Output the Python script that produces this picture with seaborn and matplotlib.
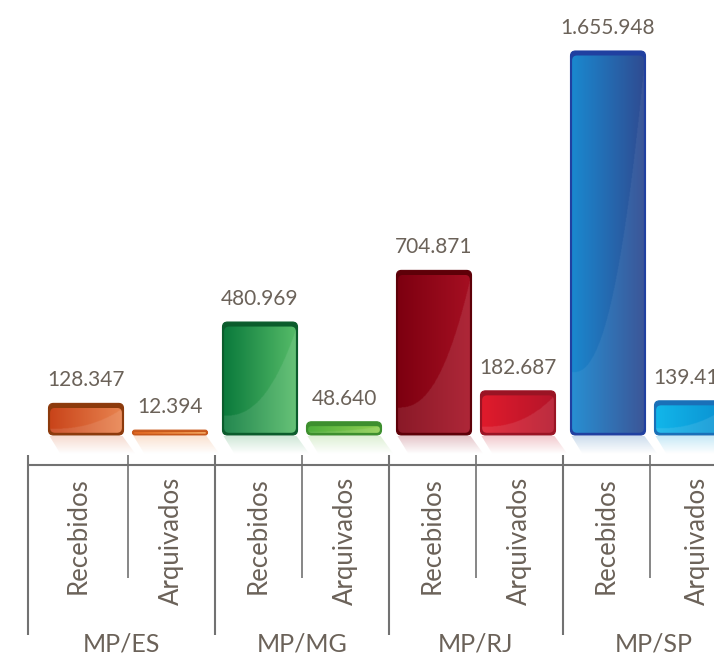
import numpy as np
import pandas as pd
import matplotlib
matplotlib.use("Agg")
import matplotlib.pyplot as plt
import seaborn as sns
from matplotlib.patches import FancyBboxPatch, Polygon
from matplotlib.colors import to_rgb

# ---------------- data ----------------
grupos = ["MP/ES", "MP/MG", "MP/RJ", "MP/SP"]
tipos = ["Recebidos", "Arquivados"]
recebidos = [128347, 480969, 704871, 1655948]
arquivados = [12394, 48640, 182687, 139410]

# colours: (left of gradient, right of gradient, rim)
cores_recebidos = [("#c9441a", "#e8834f", "#8c3a0c"),
                   ("#0b7a3c", "#55bb68", "#0b5c2c"),
                   ("#7d0010", "#a50f22", "#5e0008"),
                   ("#1a88cf", "#2f4c92", "#2040a0")]
cores_arquivados = [("#e2661f", "#f1a055", "#c8581a"),
                    ("#4faf3c", "#8fcf52", "#3d8f2e"),
                    ("#e01b2c", "#b5152a", "#9a1424"),
                    ("#12b6ea", "#0a8fd0", "#1a70b8")]

df = pd.DataFrame({
    "grupo": grupos * 2,
    "tipo": [tipos[0]] * 4 + [tipos[1]] * 4,
    "valor": recebidos + arquivados,
})

# ---------------- style ----------------
sns.set_theme(style="white")
plt.rcParams["font.family"] = ["Lato", "DejaVu Sans"]
TXT = "#6b6259"
LINE = "#727272"

W, H = 714, 656
fig = plt.figure(figsize=(W / 100, H / 100), dpi=100)
base_px, top_px = 434, 52
ax = fig.add_axes([0, 1 - base_px / H, 1, base_px / H])

sns.barplot(data=df, x="grupo", y="valor", hue="tipo", order=grupos,
            hue_order=tipos, width=0.9655, gap=0.107, ax=ax, legend=False,
            palette=["#888888", "#aaaaaa"], saturation=1)
ax.set_ylim(0, max(recebidos) * base_px / (base_px - top_px))
ax.set_xlim(-128 / 174, (W - 128) / 174)
ax.set_axis_off()

ov = fig.add_axes([0, 0, 1, 1])
ov.set_xlim(0, W)
ov.set_ylim(H, 0)
ov.set_axis_off()
ov.patch.set_visible(False)


def to_px(x, y):
    return ov.transData.inverted().transform(ax.transData.transform((x, y)))


def fmt(v):
    return f"{v:,}".replace(",", ".")


centros = {}
for hi, (cont, cores, vals) in enumerate(zip(ax.containers,
                                             [cores_recebidos, cores_arquivados],
                                             [recebidos, arquivados])):
    for gi, p in enumerate(cont.patches):
        p.set_visible(False)
        x0d, y0d, wd, hd = p.get_x(), p.get_y(), p.get_width(), p.get_height()
        (x0, yb) = to_px(x0d, y0d)
        (x1, yt) = to_px(x0d + wd, y0d + hd)
        cl, cr, rim = [np.array(to_rgb(c)) for c in cores[gi]]
        cx = (x0 + x1) / 2
        centros[(hi, gi)] = cx
        hpx = yb - yt

        # reflection / shadow
        sh_h = 18
        shift = 12
        poly = Polygon([(x0 + 1, yb + 2), (x1 - 1, yb + 2),
                        (x1 + shift, yb + 2 + sh_h), (x0 + shift, yb + 2 + sh_h)],
                       closed=True, facecolor="none", edgecolor="none")
        ov.add_patch(poly)
        mid = (cl + cr) / 2
        ny = 40
        a = np.linspace(0.38, 0.0, ny)
        simg = np.zeros((ny, 2, 4))
        simg[..., :3] = mid * 0.6 + 0.4
        simg[..., 3] = a[:, None]
        im = ov.imshow(simg, extent=[x0, x1 + shift + 1, yb + 2 + sh_h, yb + 2],
                       origin="upper", aspect="auto", interpolation="bilinear",
                       zorder=1)
        im.set_clip_path(poly)

        # rim (outer rounded box)
        r_out = min(5.0, max(hpx / 2 + 1, 1.0))
        outer = FancyBboxPatch((x0, yt - 1), x1 - x0, hpx + 2,
                               boxstyle=f"round,pad=0,rounding_size={r_out}",
                               facecolor=rim, edgecolor=rim, lw=0.8, zorder=2)
        ov.add_patch(outer)

        # inner gradient body
        it = yt + min(3.5, hpx * 0.3)
        ib = yb - min(1.2, hpx * 0.1)
        il, ir = x0 + 1.6, x1 - 1.6
        r_in = min(5.0, max((ib - it) / 2, 0.5))
        inner = FancyBboxPatch((il, it), ir - il, max(ib - it, 0.5),
                               boxstyle=f"round,pad=0,rounding_size={r_in}",
                               facecolor="none", edgecolor="none", zorder=3)
        ov.add_patch(inner)
        nx = 120
        nyy = max(int(hpx * 2), 4)
        u = np.linspace(0, 1, nx)
        v = np.linspace(1, 0, nyy)
        U, V = np.meshgrid(u, v)
        img = cl[None, None, :] * (1 - U[..., None]) + cr[None, None, :] * U[..., None]
        sheen = V < (0.16 + 0.8 * U ** 2.4)
        k = 0.10 if hpx < 200 else 0.06
        img[sheen] = img[sheen] * (1 - k) + k
        im2 = ov.imshow(img, extent=[il, ir, ib, it], origin="upper",
                        aspect="auto", interpolation="bilinear", zorder=3)
        im2.set_clip_path(inner)

        # value label
        ax.annotate(fmt(vals[gi]), xy=(x0d + wd / 2, y0d + hd),
                    xytext=(0, 18 * 0.72), textcoords="offset points",
                    ha="center", va="baseline", fontsize=15, color=TXT,
                    annotation_clip=False)

# ---------------- category axis ----------------
rec_c = [centros[(0, g)] for g in range(4)]
arq_c = [centros[(1, g)] for g in range(4)]
inner_sep = [(r + a) / 2 for r, a in zip(rec_c, arq_c)]
group_sep = [rec_c[0] - 58] + [(arq_c[g - 1] + rec_c[g]) / 2 for g in range(1, 4)]
group_sep_all = group_sep + [arq_c[3] + 53]

y_axis = 465
ov.plot([group_sep[0], W + 5], [y_axis, y_axis], color=LINE, lw=1.5,
        solid_capstyle="butt", zorder=4)
for xs in group_sep:
    ov.plot([xs, xs], [455, 635], color=LINE, lw=1.5, solid_capstyle="butt", zorder=4)
for xs in inner_sep:
    ov.plot([xs, xs], [455, 578], color=LINE, lw=1.2, solid_capstyle="butt", zorder=4)

for g in range(4):
    xr = (group_sep_all[g] + inner_sep[g]) / 2
    xa = (inner_sep[g] + group_sep_all[g + 1]) / 2
    ov.text(xr, 477, tipos[0], rotation=90, ha="center", va="top",
            fontsize=18.5, color=TXT)
    ov.text(xa, 477, tipos[1], rotation=90, ha="center", va="top",
            fontsize=18.5, color=TXT)
    ov.text((group_sep_all[g] + group_sep_all[g + 1]) / 2, 652, grupos[g],
            ha="center", va="baseline", fontsize=18, color=TXT)

fig.savefig("out.png", dpi=100, facecolor="white")
